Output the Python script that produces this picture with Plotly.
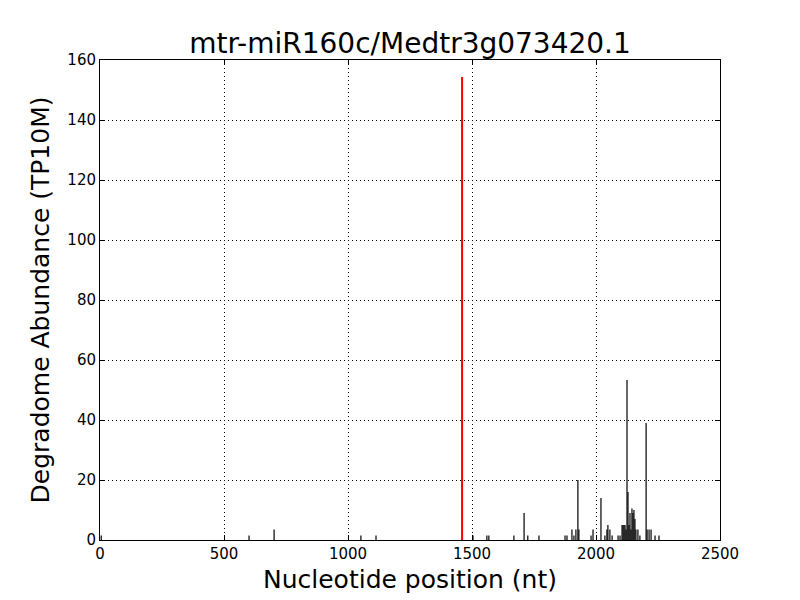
import plotly.graph_objects as go

title = "mtr-miR160c/Medtr3g073420.1"
x_label = "Nucleotide position (nt)"
y_label = "Degradome Abundance (TP10M)"

positions = [5, 601, 702, 1052, 1113, 1504, 1560, 1568, 1669, 1710, 1725, 1770,
             1875, 1883, 1903, 1911, 1919, 1927, 1931, 1980, 1988, 2020, 2036, 2044,
             2048, 2056, 2065, 2089, 2097, 2105, 2109, 2113, 2117, 2121, 2125, 2129,
             2133, 2137, 2141, 2145, 2149, 2153, 2157, 2161, 2169, 2177, 2202, 2206,
             2214, 2222, 2238, 2254]
abundance = [1.5, 1.5, 3.5, 1.5, 1.5, 1.5, 1.5, 1.5, 1.5, 9, 1.5, 1.5,
             1.5, 1.5, 3.5, 1.5, 3.5, 20, 3.5, 1.5, 3.5, 14, 1.5, 3.5,
             5, 3.5, 1.5, 1.5, 1.5, 5, 5, 5, 5, 3.5, 53.3, 16,
             5, 9, 3.5, 10.5, 9, 10, 7, 3.5, 3.5, 1.5, 39, 3.5,
             3.5, 3.5, 1.5, 1.5]

target_pos = [1460]
target_abund = [154.3]


def stems(xs, ys):
    lx, ly = [], []
    for x, y in zip(xs, ys):
        lx += [x, x, None]
        ly += [0, y, None]
    return lx, ly


fig = go.Figure()
sx, sy = stems(positions, abundance)
fig.add_trace(go.Scatter(x=sx, y=sy, mode="lines", line=dict(color="black", width=1.2),
                         hoverinfo="skip", showlegend=False))
tx, ty = stems(target_pos, target_abund)
fig.add_trace(go.Scatter(x=tx, y=ty, mode="lines", line=dict(color="red", width=2),
                         hoverinfo="skip", showlegend=False))

axis_common = dict(showline=True, linecolor="black", linewidth=1, mirror="allticks",
                   ticks="inside", ticklen=5, tickcolor="black",
                   showgrid=True, gridcolor="black", griddash="1px,3px", gridwidth=1,
                   zeroline=False, tickfont=dict(size=15, color="black"))

fig.update_layout(
    width=800, height=600,
    paper_bgcolor="white", plot_bgcolor="white",
    font=dict(family="DejaVu Sans", color="black"),
    margin=dict(l=92, r=88, t=52, b=68),
    title=dict(text=title, x=0.5025, xanchor="center", y=0.942, yanchor="middle",
               font=dict(size=28, color="black")),
    xaxis=dict(range=[0, 2500], tickvals=[0, 500, 1000, 1500, 2000, 2500],
               title=dict(text=x_label, font=dict(size=25), standoff=8), **axis_common),
    yaxis=dict(range=[0, 160], tickvals=[0, 20, 40, 60, 80, 100, 120, 140, 160],
               title=dict(text=y_label, font=dict(size=25), standoff=10), **axis_common),
)

fig.write_html("out.html")
